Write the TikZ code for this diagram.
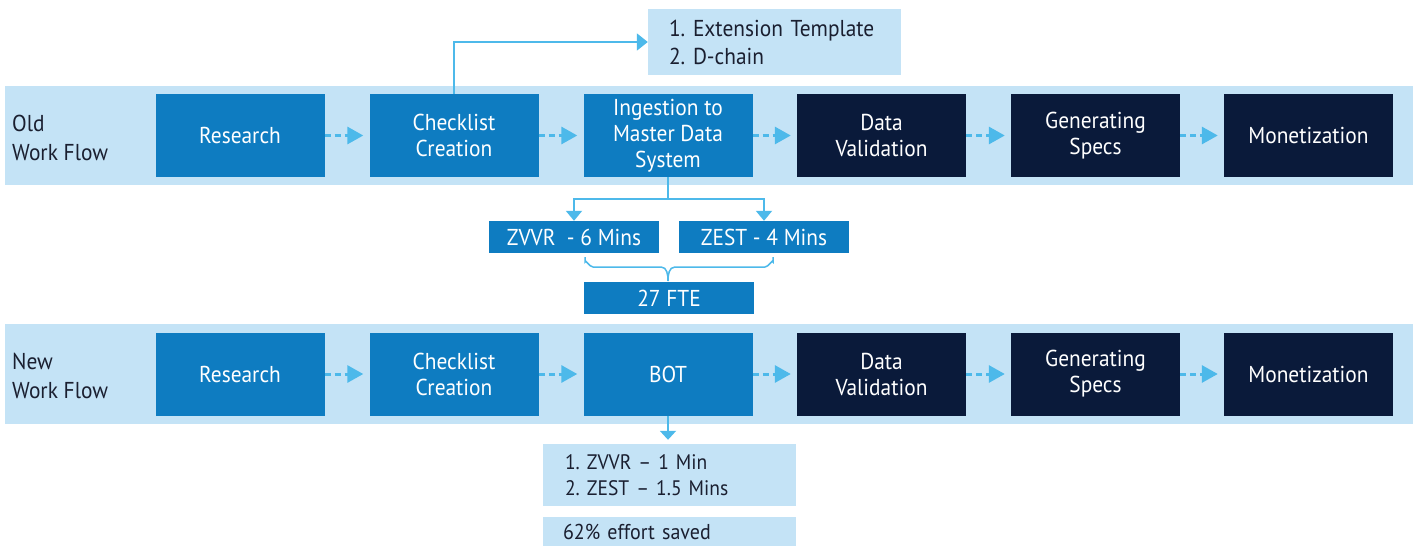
\documentclass[tikz,border=0pt]{standalone}
\usepackage{fontspec}
\setmainfont{PT Sans}[FakeStretch=0.93]
\usetikzlibrary{arrows.meta}
\definecolor{band}{HTML}{C4E3F6}
\definecolor{midblue}{HTML}{0E7CC1}
\definecolor{navy}{HTML}{0A1A3A}
\definecolor{cyanline}{HTML}{4DB9EA}
\definecolor{ink}{HTML}{1A1F30}
\begin{document}
\begin{tikzpicture}[x=1pt,y=-1pt,
  stepbox/.style={minimum width=169pt, minimum height=83pt, inner sep=0pt, text=white, align=center, font=\fontsize{23}{26}\selectfont},
  bluebox/.style={stepbox, fill=midblue},
  darkbox/.style={stepbox, fill=navy},
  bandbox/.style={fill=band, inner sep=0pt, anchor=north west, minimum width=1408pt},
  flowlabel/.style={anchor=west, align=left, text=ink, inner sep=0pt, font=\fontsize{23}{29}\selectfont},
  flow/.style={draw=cyanline, line width=3pt, dash pattern=on 6pt off 4pt, -{Triangle[length=16pt,width=17pt]}, shorten >=6pt},
  thin/.style={draw=cyanline, line width=2pt},
  smallbox/.style={fill=midblue, text=white, minimum width=170pt, minimum height=32pt, inner sep=0pt, font=\fontsize{23}{26}\selectfont},
  notebox/.style={fill=band, text=ink, inner ysep=0pt, align=left}
]
\useasboundingbox (0,0) rectangle (1416,546);

% bands
\node[bandbox, minimum height=99pt] (oldband) at (5,86) {};
\node[bandbox, minimum height=100pt] (newband) at (5,324) {};

\node[flowlabel] (oldlbl) at (12,138) {Old\\Work Flow};
\node[flowlabel] (newlbl) at (12,376) {New\\Work Flow};

% old flow
\node[bluebox] (o1) at (240,135.5) {Research};
\node[bluebox] (o2) at (454,135.5) {Checklist\\Creation};
\node[bluebox] (o3) at (668,135.5) {Ingestion to\\Master Data\\System};
\node[darkbox] (o4) at (881.5,135.5) {Data\\Validation};
\node[darkbox] (o5) at (1095.5,135.5) {Generating\\Specs};
\node[darkbox] (o6) at (1308.5,135.5) {Monetization};

% new flow
\node[bluebox] (n1) at (240,374) {Research};
\node[bluebox] (n2) at (454,374) {Checklist\\Creation};
\node[bluebox] (n3) at (668,374) {BOT};
\node[darkbox] (n4) at (881.5,374) {Data\\Validation};
\node[darkbox] (n5) at (1095.5,374) {Generating\\Specs};
\node[darkbox] (n6) at (1308.5,374) {Monetization};

\foreach \a/\b in {o1/o2,o2/o3,o3/o4,o4/o5,o5/o6,n1/n2,n2/n3,n3/n4,n4/n5,n5/n6}
  \draw[flow] (\a.east) -- (\b.west);

% extension note
\node[notebox, minimum width=253pt, minimum height=66pt, text width=211pt, inner xsep=21pt,
  font=\fontsize{23}{28}\selectfont] (ext) at (774.5,42)
  {\makebox[24pt][l]{1.}Extension Template\\\makebox[24pt][l]{2.}D-chain\\[-4pt]};
\draw[thin, -{Triangle[length=11pt,width=17pt]}] (o2.north) |- (ext.west);

% time boxes
\node[smallbox] (zvvr) at (574,237) {ZVVR\ \ - 6 Mins};
\node[smallbox] (zest) at (764,237) {ZEST - 4 Mins};
\node[smallbox] (fte) at (669,298) {27 FTE};
\coordinate (split) at (668,199);
\draw[thin] (o3.south) -- (split);
\draw[thin, -{Triangle[length=10pt,width=16pt]}] (split) -| (zvvr.north);
\draw[thin, -{Triangle[length=10pt,width=16pt]}] (split) -| (zest.north);

% brace
\coordinate (bl) at (585,257);
\coordinate (br) at (773,257);
\coordinate (bm) at (668,281);
\draw[draw=cyanline, line width=1.5pt] (bl) -- ++(0,5) to[out=90,in=180] ++(8,5) -- (661,267) to[out=0,in=90] (bm);
\draw[draw=cyanline, line width=1.5pt] (br) -- ++(0,5) to[out=90,in=0] ++(-8,5) -- (675,267) to[out=180,in=90] (bm);

% new results
\node[notebox, minimum width=253pt, minimum height=62pt, text width=209pt, inner xsep=22pt,
  font=\fontsize{21}{26}\selectfont] (res) at (669.5,475)
  {\makebox[22pt][l]{1.}ZVVR -- 1 Min\\\makebox[22pt][l]{2.}ZEST -- 1.5 Mins};
\draw[thin, -{Triangle[length=9pt,width=16pt]}, shorten >=4pt] (n3.south) -- (res.north -| n3.south);
\node[notebox, minimum width=253pt, minimum height=29pt, text width=213pt, inner xsep=20pt,
  font=\fontsize{21.5}{24}\selectfont] (saved) at (669.5,531.5) {62\% effort saved};
\end{tikzpicture}
\end{document}
